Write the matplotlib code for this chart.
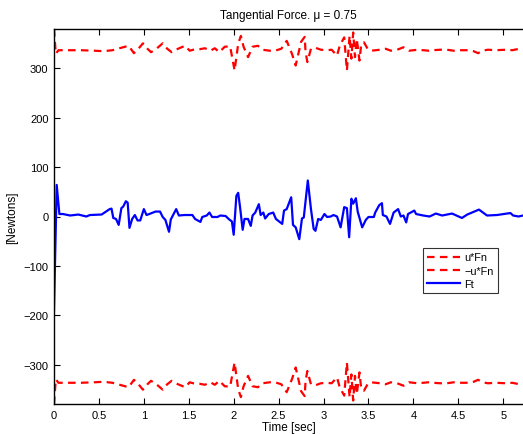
import matplotlib
matplotlib.use("Agg")
import matplotlib.pyplot as plt
import numpy as np

# ---- data ----
# u*Fn (upper red dashed); -u*Fn is its mirror
t_fn = [0.00, 0.02, 0.05, 0.15, 0.30, 0.45, 0.55, 0.65, 0.75, 0.83, 0.89, 0.94,
        0.99, 1.04, 1.08, 1.14, 1.21, 1.26, 1.31, 1.38, 1.46, 1.51, 1.55, 1.62,
        1.68, 1.74, 1.79, 1.84, 1.90, 1.96, 2.01, 2.05, 2.08, 2.11, 2.16, 2.21,
        2.27, 2.32, 2.40, 2.46, 2.53, 2.59, 2.65, 2.69, 2.75, 2.79, 2.80, 2.82,
        2.86, 2.91, 2.97, 3.04, 3.09, 3.15, 3.18, 3.23, 3.26, 3.29, 3.31, 3.33,
        3.35, 3.37, 3.40, 3.42, 3.45, 3.49, 3.53, 3.58, 3.63, 3.69, 3.75, 3.82,
        3.89, 3.95, 4.00, 4.05, 4.11, 4.17, 4.22, 4.30, 4.37, 4.45, 4.53, 4.61,
        4.67, 4.72, 4.77, 4.83, 4.92, 5.03, 5.10, 5.18, 5.22]
u_fn = [380, 330, 337, 337, 337, 336, 335, 337, 342, 346, 331, 340,
        351, 340, 333, 340, 351, 340, 333, 340, 346, 336, 338, 339,
        341, 336, 341, 333, 344, 345, 296, 350, 366, 344, 323, 344,
        346, 338, 336, 336, 340, 356, 329, 306, 354, 364, 333, 313,
        340, 342, 338, 337, 338, 326, 346, 363, 296, 366, 320, 373,
        323, 360, 316, 350, 353, 340, 336, 337, 338, 340, 336, 338,
        343, 336, 337, 338, 337, 336, 337, 338, 338, 336, 337, 337,
        335, 331, 336, 338, 337, 338, 337, 340, 338]

# Ft (blue solid)
t_ft = [0.00, 0.03, 0.06, 0.10, 0.18, 0.27, 0.36, 0.40, 0.53, 0.62, 0.64, 0.66,
        0.69, 0.72, 0.75, 0.77, 0.80, 0.82, 0.84, 0.87, 0.90, 0.93, 0.96, 1.00,
        1.03, 1.06, 1.13, 1.18, 1.21, 1.24, 1.28, 1.30, 1.36, 1.39, 1.45, 1.54,
        1.57, 1.63, 1.65, 1.70, 1.73, 1.76, 1.82, 1.85, 1.91, 1.95, 1.98, 2.00,
        2.03, 2.05, 2.07, 2.10, 2.12, 2.16, 2.19, 2.21, 2.24, 2.28, 2.30, 2.33,
        2.35, 2.39, 2.44, 2.47, 2.54, 2.56, 2.59, 2.64, 2.66, 2.69, 2.73, 2.76,
        2.78, 2.825, 2.86, 2.89, 2.91, 2.94, 2.97, 3.01, 3.04, 3.08, 3.11, 3.15,
        3.19, 3.23, 3.26, 3.285, 3.31, 3.33, 3.36, 3.38, 3.43, 3.47, 3.50, 3.56,
        3.575, 3.62, 3.65, 3.66, 3.70, 3.74, 3.78, 3.83, 3.86, 3.89, 3.92, 3.94,
        3.98, 4.01, 4.03, 4.11, 4.18, 4.25, 4.32, 4.43, 4.54, 4.60, 4.73, 4.82,
        4.93, 5.08, 5.11, 5.17, 5.22]
ft = [-190, 64, 5, 5, 2, 4, 0, 3, 4, 15, 16, -3,
      -5, -17, 17, 20, 31, 28, -23, -5, 3, -8, -8, 15,
      3, 5, 10, 10, -1, -7, -31, -6, 15, 2, 3, 3,
      -5, -11, -1, 2, 8, -1, -1, 2, 1, -6, -10, -37,
      42, 48, 20, -27, -5, -5, -19, 2, 8, 25, 3, 8,
      -4, 5, 8, -5, -15, 12, 15, 39, -17, -22, -46, -4,
      -2, 73, 15, -25, -29, -5, -7, 5, -1, 0, 3, 0,
      -22, 19, 17, -42, 36, 26, 37, 10, -22, -7, -1, -1,
      8, 23, 27, 3, 0, -15, 8, 15, 0, 2, -12, 5,
      9, 12, 5, 2, 0, 6, 2, 6, -3, 4, 14, 2,
      3, 7, 2, 0, 2]

legend_labels = ["u*Fn", "\u2212u*Fn", "Ft"]
x_ticks = [0, 0.5, 1, 1.5, 2, 2.5, 3, 3.5, 4, 4.5, 5]
x_ticklabels = ["0", "0.5", "1", "1.5", "2", "2.5", "3", "3.5", "4", "4.5", "5"]
y_ticks = [-300, -200, -100, 0, 100, 200, 300]

plt.rcParams['font.family'] = ['Liberation Sans', 'DejaVu Sans']

fig = plt.figure(figsize=(5.23, 4.35), dpi=100)
ax = fig.add_axes([54/523, 30/435, 469/523, 375/435])

LW = 1.6
dash = (0, (3.4, 2.4))
t_fn_a = np.array(t_fn)
u_fn_a = np.array(u_fn, dtype=float)
ax.plot(t_fn_a, u_fn_a, color='#ff0000', ls=dash, lw=LW, label=legend_labels[0])
ax.plot(t_fn_a, -u_fn_a, color='#ff0000', ls=dash, lw=LW, label=legend_labels[1])
ax.plot(t_ft, ft, color='#0000ff', lw=LW, label=legend_labels[2])

ax.set_xlim(0, 5.22)
ax.set_ylim(-380, 380)
ax.set_xticks(x_ticks)
ax.set_xticklabels(x_ticklabels)
ax.set_yticks(y_ticks)
ax.tick_params(direction='in', top=True, right=False, labelsize=8, length=4, width=0.8, pad=4)
ax.spines['right'].set_visible(False)
for s in ['left', 'bottom', 'top']:
    ax.spines[s].set_linewidth(1.0)

ax.set_title("Tangential Force. \u03bc = 0.75", fontsize=8.5, pad=8)
ax.set_xlabel("Time [sec]", fontsize=8.5, labelpad=1)
ax.set_ylabel("[Newtons]", fontsize=8.5, labelpad=4)

leg = ax.legend(loc='upper left', bbox_to_anchor=((423-54)/469, (405-249)/375),
                fontsize=7.8, frameon=True, fancybox=False, borderaxespad=0,
                handlelength=3.0, handletextpad=0.4, borderpad=0.4, labelspacing=0.3)
leg.get_frame().set_edgecolor('black')
leg.get_frame().set_linewidth(0.8)

fig.savefig("out.png", dpi=100)
